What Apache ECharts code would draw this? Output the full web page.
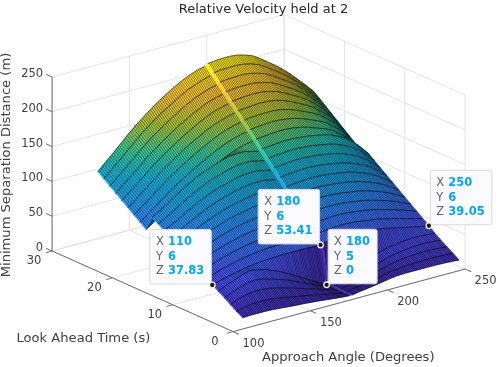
<!DOCTYPE html>
<html><head><meta charset="utf-8">
<style>html,body{margin:0;padding:0;background:#fff}#c{width:498px;height:367px;filter:blur(0.3px)}</style>
<script src="https://cdn.jsdelivr.net/npm/echarts@6/dist/echarts.min.js"></script>
</head><body><div id="c"></div>
<script>
const titleText = 'Relative Velocity held at 2';
const xAxisName = 'Approach Angle (Degrees)';
const yAxisName = 'Look Ahead Time (s)';
const zAxisName = 'Minimum Separation Distance (m)';
const xTicks = [100,150,200,250];
const yTicks = [0,10,20,30];
const zTicks = [0,50,100,150,200,250];
const angleColumns = [110,115,120,125,130,135,140,145,150,155,160,165,170,175,179,181,185,190,195,200,205,210,215,220,225,230,235,240,245,250];
const lookAheadRows = [1,2,3,4,5,6,7,8,9,10,11,12,13,14,15,16,17,18,19,20,21,22,23,24,25];
const zY01 = [10,10.5,10.5,10.5,10,9,8,7.2,6.5,5.5,4.5,3.2,2,1,0.3,0.3,2,3.5,5.2,7,9,10.5,11,11,11,11,10.8,10.5,10,9];
const zY02 = [15,18,20,20.5,20,18.8,17,15,13,11,9,6.5,4,2,0.5,0.5,2.5,4,6,8,10.5,13,14,15,15.5,16,16,16,15.5,15];
const zY03 = [21,26,29,31,31,29.5,27,24,21,17.5,14,10.5,7,3.5,0.8,0.8,3,5,7,9,12,15,18,20,21,22,22.2,22,21.5,20.5];
const zY04 = [27,32,36,39.5,41,39,36,32.5,29,24,19,14,9,4.5,1,1,3.5,5.5,8,11,14,17,21,24,25.5,27,27.7,28,27,26];
const zY05 = [32.5,38,42,46.5,50,48.5,46,41.5,37,31,25,18.5,12,6,1,1,3,6,10,14,19,24,27,30,31.5,33,33.7,34,33,32];
const zY06 = [37.83,41,44,46.5,49,50.5,52,53,53.5,54,54,54,54,53.5,53,54,56,57,58,58,57.5,56,54.5,53,50.5,48,45.5,43,41,39.05];
const zY07 = [44,47,50.6,53.6,56.6,58.6,60.6,62,63,63.7,64,64,64,63.4,62.7,63.8,65.7,66.7,67.7,67.7,67,65.7,64,62.6,60,57.3,54.5,51.4,48.5,45.5];
const zY08 = [50,53.4,57,60.8,64.2,66.8,69.2,71,72,73.4,74,74,74,73,72.4,73.6,75.4,76.4,77.4,77.4,77,75.4,74,72.2,69.6,66.6,63.4,59.8,56,52];
const zY09 = [56,59.6,63.8,68,71.8,75,77.8,80,81.5,83,84,84.3,84,83,82,83.4,85.1,86.1,87.1,87.1,86.5,85.1,83.5,81.8,79,75.9,72.4,68.2,63.5,58.5];
const zY10 = [62,65.8,70.4,75,79.4,83,86.4,89,91,92.8,94,94.4,94,93,91.8,93.2,94.8,95.8,96.8,96.8,96,94.8,93,91.4,88.7,85.2,81.3,76.6,71,65];
const zY11 = [68,72,77,82,87,91,95,98,100,102.5,104,104.5,104.5,102.7,101.5,103,104.5,105.5,106.5,106.5,105.5,104.5,103,101,98.3,94.5,90.3,85,78.5,71.5];
const zY12 = [74,78.2,83.6,89.4,94.6,99.4,103.6,107,109.5,112,114,114.6,115,112.6,111,112.8,114.2,115.2,116.2,116.2,115.4,114.2,112.4,110.6,107.8,103.8,99.2,93.4,86,78];
const zY13 = [79,84.4,90.2,96.6,102.2,107.6,112.2,116,119,122,124,124.7,125,122.5,121,122.6,123.9,124.9,125.9,125.9,125,123.9,122,120.2,117.3,113.1,108.2,101.8,93.5,84.5];
const zY14 = [85,90.6,96.8,103.7,109.8,115.7,120.8,125,128,131.6,134,134.8,135,132.3,130.6,132.4,133.6,134.6,135.6,135.6,134.7,133.6,131.7,129.8,126.9,122.4,117.1,110.2,101,91];
const zY15 = [90.5,96.8,103.4,110.8,117.4,123.8,129.4,134,137.5,141.3,144,145,145,142,140.3,142.2,143.3,144.3,145.3,145.3,144.4,143.3,141.4,139.4,136.4,131.7,126,118.6,108.5,97.5];
const zY16 = [96,103,110,118,125,132,138,143,147,151,154,155,155,152,150,152,153,154,155,155,154,153,151,149,146,141,135,127,116,104];
const zY17 = [75,83,91,99.5,108,115,122,129,135,141,147,152,156,159,160.5,162,163,164,165,165,164,162,159,155,151,146,138,129,116,102];
const zY18 = [81.5,90,98,107,115.5,123,130.5,137.5,144,150,156,161,165,168.5,170,171.75,173,174,175,174.5,173,171,167.5,163,158.5,153,145,135.5,123,109];
const zY19 = [88,97,105,114.5,123.5,131,139,146,153,159,165,170.5,175,178,180,181.5,183,183.5,184,184,182.5,180,176,171,166,160,151.5,142,129.5,116];
const zY20 = [94.5,103.5,112.5,122,131,139.5,147,155,162,168,174.5,180,184,187.5,189.5,191.25,192,193,194,193.5,192,189,184.5,179,173.5,167,158,148.5,136,123];
const zY21 = [101,110.5,119.5,129,139,147.5,155.5,163,170.5,177,183.5,189,193.5,197,199,201,202,203,203.5,203,201,198,193,187,181,174,165,155,143,130];
const zY22 = [107.5,117.5,127,136.5,147,155.5,164,172,179.5,186,192.5,198,203,206.5,208.5,210.75,212,213,213,212.5,210,207,201.5,195,188.5,181,172,161.5,150,137];
const zY23 = [114,124,134,144,154.5,164,172.5,180.5,188,195,202,207.5,212,216,218,220.5,222,222.5,223,222,219.5,216,210,203,196,188,178.5,168,156.5,144];
const zY24 = [120.5,131,141,151.5,162,172,181,189.5,197,204,211,217,221.5,225.5,227.5,230.25,232,232,232.5,231.5,229,225,218.5,211,203.5,195,185,174.5,163,151];
const zY25 = [127,138,148,159,170,180,189,198,206,213,220,226,231,235,237,240,241,242,242,241,238,234,227,219,211,202,192,181,170,158];
const zRows = [zY01,zY02,zY03,zY04,zY05,zY06,zY07,zY08,zY09,zY10,zY11,zY12,zY13,zY14,zY15,zY16,zY17,zY18,zY19,zY20,zY21,zY22,zY23,zY24,zY25];
const tipX = [110,180,180,250];
const tipY = [6,6,5,6];
const tipZ = [37.83,53.41,0,39.05];

// Orthographic view of the 3-D axes, onto a full-canvas 2-D cartesian grid.
function project(x,y,z){
  return [233+(x-100)*1.547-y*6.03, 331.6-(x-100)*0.417-y*2.687-z*0.696];
}
const parula=[[62,38,168],[72,82,244],[46,135,247],[18,177,214],[55,200,151],[171,199,57],[254,195,56],[249,251,21]];
const colorKnotZ=[0,50,100,115,130,150,170,200,241];
const colorKnotT=[0,0.18,0.36,0.40,0.46,0.58,0.68,0.83,1];
function colorPosition(z){
  for(let k=1;k<colorKnotZ.length;k++){
    if(z<=colorKnotZ[k]){
      const f=(z-colorKnotZ[k-1])/(colorKnotZ[k]-colorKnotZ[k-1]);
      return colorKnotT[k-1]+(colorKnotT[k]-colorKnotT[k-1])*f;
    }
  }
  return 1;
}
function parulaColor(z){
  const t=colorPosition(Math.max(0,z))*(parula.length-1);
  const a=Math.min(parula.length-2,Math.floor(t)),f=t-a;
  const c=parula[a].map((v,k)=>Math.round(v+(parula[a+1][k]-v)*f));
  return 'rgb('+c.join(',')+')';
}
const ink='#404040';
const axisFont='"DejaVu Sans"';
const hatchStep=1;

function lineEl(c,p,q,style){
  const a=c(p),b=c(q);
  return {type:'line',shape:{x1:a[0],y1:a[1],x2:b[0],y2:b[1]},style:style,silent:true};
}
function textEl(c,p,str,o){
  const a=c(p);
  return {type:'text',x:a[0],y:a[1],style:Object.assign({text:str,fill:ink,font:'11.5px '+axisFont,align:'center',verticalAlign:'middle'},o||{}),silent:true};
}

/* --- back grid --- */
function renderGrid(params,api){
  const c=v=>api.coord(v), st={stroke:'#e4e4e4',lineWidth:1}, ch=[];
  const P=(x,y,z)=>project(x,y,z);
  xTicks.forEach(x=>{ch.push(lineEl(c,P(x,0,0),P(x,30,0),st));ch.push(lineEl(c,P(x,30,0),P(x,30,250),st));});
  yTicks.forEach(y=>{ch.push(lineEl(c,P(100,y,0),P(250,y,0),st));ch.push(lineEl(c,P(250,y,0),P(250,y,250),st));});
  zTicks.forEach(z=>{ch.push(lineEl(c,P(100,30,z),P(250,30,z),st));ch.push(lineEl(c,P(250,30,z),P(250,0,z),st));});
  return {type:'group',children:ch};
}
/* --- axes with ticks and tick labels --- */
function renderAxes(params,api){
  const c=v=>api.coord(v), st={stroke:'#6e6e6e',lineWidth:1}, ch=[];
  const P=(x,y,z)=>project(x,y,z);
  ch.push(lineEl(c,P(100,30,0),P(100,30,250),st));
  ch.push(lineEl(c,P(100,0,0),P(100,30,0),st));
  ch.push(lineEl(c,P(100,0,0),P(250,0,0),st));
  zTicks.forEach(z=>{
    ch.push(lineEl(c,P(100,30,z),P(100,31,z),st));
    const a=P(100,30,z);
    ch.push(textEl(c,[a[0]-9,a[1]-3],String(z),{align:'right'}));
  });
  yTicks.forEach(y=>{
    ch.push(lineEl(c,P(100,y,0),P(96,y,0),st));
    const a=P(100,y,0);
    ch.push(textEl(c,[a[0]-18,a[1]+10],String(y)));
  });
  xTicks.forEach(x=>{
    ch.push(lineEl(c,P(x,0,0),P(x,-1,0),st));
    const a=P(x,0,0);
    ch.push(textEl(c,[a[0]+20.5,a[1]+12],String(x)));
  });
  return {type:'group',children:ch};
}
/* --- surface: painter's order, far row/far column first --- */
const cells=[];
for(let j=lookAheadRows.length-2;j>=0;j--) for(let i=angleColumns.length-2;i>=0;i--) cells.push([i,j]);
function renderCell(params,api){
  const i=api.value(0), j=api.value(1);
  const x0=angleColumns[i],x1=angleColumns[i+1],y0=lookAheadRows[j],y1=lookAheadRows[j+1];
  const A=api.coord(project(x0,y0,zRows[j][i])),B=api.coord(project(x1,y0,zRows[j][i+1]));
  const C=api.coord(project(x1,y1,zRows[j+1][i+1])),D=api.coord(project(x0,y1,zRows[j+1][i]));
  const c0=parulaColor(zRows[j][i]),c1=parulaColor(zRows[j][i+1]);
  const fill=new echarts.graphic.LinearGradient(A[0],A[1],B[0],B[1],[{offset:0,color:c0},{offset:1,color:c1}],true);
  const seam=(x1-x0)<3;
  const ch=[{type:'polygon',shape:{points:[A,B,C,D]},style:{fill:fill,stroke:fill,lineWidth:0.4},silent:true,z2:params.dataIndex*3}];
  if(!seam){
    let d='';
    for(let k=hatchStep;k<=(x1-x0);k+=hatchStep){
      const f=k/(x1-x0);
      d+='M'+(A[0]+(B[0]-A[0])*f).toFixed(2)+' '+(A[1]+(B[1]-A[1])*f).toFixed(2)+
         'L'+(D[0]+(C[0]-D[0])*f).toFixed(2)+' '+(D[1]+(C[1]-D[1])*f).toFixed(2);
    }
    ch.push({type:'path',shape:{pathData:d},style:{fill:null,stroke:'rgba(0,0,0,0.58)',lineWidth:0.8},silent:true,z2:params.dataIndex*3+1});
    const edge='M'+A[0]+' '+A[1]+'L'+B[0]+' '+B[1]+'M'+D[0]+' '+D[1]+'L'+C[0]+' '+C[1];
    ch.push({type:'path',shape:{pathData:edge},style:{fill:null,stroke:'rgba(0,0,0,0.72)',lineWidth:0.8},silent:true,z2:params.dataIndex*3+2});
  }
  return {type:'group',children:ch};
}
/* --- data tips --- */
const valueFont='bold 11.5px "DejaVu Sans"';
function valueWidth(s){return String(s).split('').reduce((w,ch)=>w+(ch==='.'?4.4:8),0);}
function renderTip(params,api){
  const n=api.value(0);
  const a=api.coord(project(tipX[n],tipY[n],tipZ[n]));
  const vals=[tipX[n],tipY[n],tipZ[n]], names=['X','Y','Z'];
  const w=25+Math.max.apply(null,vals.map(valueWidth)), h=54.5;
  const rightSide=(n>=2);
  const bx=rightSide?a[0]+1.5:a[0]-w-1, by=a[1]-h-1;
  const ch=[{type:'rect',shape:{x:bx,y:by,width:w,height:h,r:2},style:{fill:'#fafaff',stroke:'#d9d9d9',lineWidth:1},silent:true}];
  vals.forEach((v,k)=>{
    const ty=by+13+k*14.4;
    ch.push({type:'text',x:bx+6,y:ty,style:{text:names[k],fill:'#666666',font:'11.5px "DejaVu Sans"',align:'left',verticalAlign:'middle'},silent:true});
    ch.push({type:'text',x:bx+18,y:ty,style:{text:String(v),fill:'#00a6ff',font:valueFont,align:'left',verticalAlign:'middle'},silent:true});
  });
  ch.push({type:'circle',shape:{cx:a[0],cy:a[1],r:2.8},style:{fill:'#1a1a1a',stroke:'#f2f0dc',lineWidth:1.3},silent:true});
  return {type:'group',children:ch};
}
const chart=echarts.init(document.getElementById('c'),null,{renderer:'canvas'});
chart.setOption({
  animation:false,
  backgroundColor:'#fff',
  title:{text:titleText,left:258.5,textAlign:'center',top:-2,textStyle:{fontFamily:'DejaVu Sans',fontSize:13,fontWeight:'normal',color:'#262626'}},
  grid:{left:0,right:0,top:0,bottom:0},
  xAxis:{type:'value',min:0,max:498,show:false},
  yAxis:{type:'value',min:0,max:367,inverse:true,show:false},
  graphic:[
    {type:'text',x:262,y:358,style:{text:xAxisName,fill:ink,font:'13.1px "DejaVu Sans"',align:'left',verticalAlign:'middle'}},
    {type:'text',x:16.5,y:339,style:{text:yAxisName,fill:ink,font:'13.1px "DejaVu Sans"',align:'left',verticalAlign:'middle'}},
    {type:'text',x:7,y:165,rotation:Math.PI/2,style:{text:zAxisName,fill:ink,font:'13.1px "DejaVu Sans"',align:'center',verticalAlign:'middle'}}
  ],
  series:[
    {type:'custom',coordinateSystem:'cartesian2d',silent:true,z:1,data:[[0]],renderItem:renderGrid,clip:false},
    {type:'custom',coordinateSystem:'cartesian2d',silent:true,z:2,data:[[0]],renderItem:renderAxes,clip:false},
    {type:'custom',coordinateSystem:'cartesian2d',silent:true,z:3,data:cells,renderItem:renderCell,clip:false,progressive:0},
    {type:'custom',coordinateSystem:'cartesian2d',silent:true,z:4,data:tipX.map((v,n)=>[n]),renderItem:renderTip,clip:false}
  ]
});
</script></body></html>
